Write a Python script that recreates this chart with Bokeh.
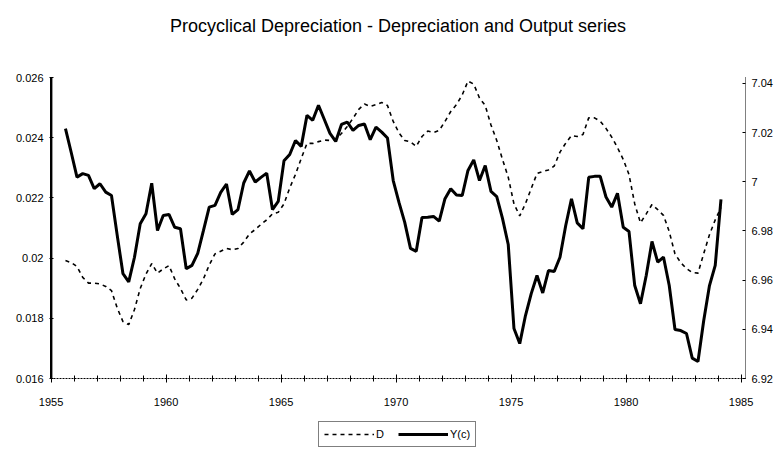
from bokeh.plotting import figure
from bokeh.layouts import column
from bokeh.models import (Range1d, LinearAxis, FixedTicker, CustomJSTickFormatter,
                          Legend, LegendItem, Label, Span)
from bokeh.embed import file_html
from bokeh.resources import INLINE

# Quarterly series, 1955Q3 .. 1984Q1
D = [0.01992, 0.01985, 0.01972, 0.01936, 0.01917, 0.01917, 0.01914, 0.01906, 0.01892, 0.01834,
     0.01789, 0.01779, 0.01829, 0.01899, 0.01947, 0.01982, 0.01950, 0.01964, 0.01975, 0.01931,
     0.01899, 0.01861, 0.01867, 0.01896, 0.01931, 0.01977, 0.02014, 0.02023, 0.02032, 0.02028,
     0.02032, 0.02053, 0.02080, 0.02095, 0.02112, 0.02127, 0.02147, 0.02152, 0.02180, 0.02233,
     0.02278, 0.02331, 0.02381, 0.02381, 0.02387, 0.02392, 0.02391, 0.02396, 0.02414, 0.02437,
     0.02464, 0.02494, 0.02512, 0.02504, 0.02510, 0.02517, 0.02507, 0.02454, 0.02416, 0.02391,
     0.02386, 0.02371, 0.02404, 0.02422, 0.02417, 0.02424, 0.02454, 0.02487, 0.02510, 0.02542,
     0.02588, 0.02578, 0.02532, 0.02507, 0.02442, 0.02391, 0.02328, 0.02269, 0.02180, 0.02140,
     0.02181, 0.02231, 0.02281, 0.02288, 0.02293, 0.02306, 0.02352, 0.02382, 0.02407, 0.02404,
     0.02411, 0.02466, 0.02466, 0.02455, 0.02431, 0.02402, 0.02367, 0.02328, 0.02278, 0.02180,
     0.02117, 0.02147, 0.02178, 0.02161, 0.02142, 0.02088, 0.02014, 0.01985, 0.01965, 0.01952,
     0.01950, 0.02015, 0.02078, 0.02127, 0.02168]

Yc = [7.0216, 7.0119, 7.0019, 7.0033, 7.0026, 6.9972, 6.9992, 6.9958, 6.9944, 6.9782,
      6.9626, 6.9593, 6.9693, 6.9829, 6.9870, 6.9994, 6.9802, 6.9863, 6.9867, 6.9815,
      6.9809, 6.9646, 6.9660, 6.9709, 6.9802, 6.9897, 6.9904, 6.9957, 6.9991, 6.9867,
      6.9887, 6.9995, 7.0044, 6.9999, 7.0018, 7.0035, 6.9887, 6.9920, 7.0085, 7.0111,
      7.0168, 7.0144, 7.0270, 7.0250, 7.0311, 7.0254, 7.0197, 7.0164, 7.0233, 7.0243,
      7.0209, 7.0229, 7.0235, 7.0171, 7.0222, 7.0202, 7.0178, 7.0005, 6.9916, 6.9835,
      6.9729, 6.9717, 6.9855, 6.9856, 6.9859, 6.9840, 6.9931, 6.9972, 6.9946, 6.9944,
      7.0046, 7.0089, 7.0005, 7.0066, 6.9961, 6.9940, 6.9851, 6.9745, 6.9403, 6.9342,
      6.9456, 6.9545, 6.9619, 6.9548, 6.9639, 6.9635, 6.9693, 6.9822, 6.9931, 6.9833,
      6.9809, 7.0018, 7.0022, 7.0022, 6.9938, 6.9897, 6.9953, 6.9815, 6.9798, 6.9578,
      6.9504, 6.9619, 6.9757, 6.9673, 6.9694, 6.9578, 6.9399, 6.9395, 6.9383, 6.9283,
      6.9269, 6.9436, 6.9578, 6.9660, 6.9928]

FIRST_QUARTER = 1955.625
years = [FIRST_QUARTER + 0.25 * i for i in range(len(D))]

x_ticks = [1955, 1960, 1965, 1970, 1975, 1980, 1985]
x_minor = list(range(1955, 1986))
left_ticks = [0.016, 0.018, 0.020, 0.022, 0.024, 0.026]
right_ticks = [6.92, 6.94, 6.96, 6.98, 7.00, 7.02, 7.04]

TITLE = "Procyclical Depreciation - Depreciation and Output series"
FONT = "Liberation Sans"
W = 780


def strip(height):
    f = figure(width=W, height=height, output_backend="svg", toolbar_location=None,
               x_axis_type=None, y_axis_type=None, min_border=0,
               x_range=Range1d(0, 1), y_range=Range1d(0, 1))
    f.outline_line_color = None
    f.background_fill_color = None
    f.border_fill_color = "white"
    return f


# title strip
top = strip(50)
top.add_layout(Label(x=0.5, y=0.5, text=TITLE, text_align="center",
                     text_baseline="middle", text_font=FONT, text_font_size="18px",
                     text_color="black"))

# main chart
x_range = Range1d(1954.974, 1985.191)
p = figure(width=W, height=364, output_backend="svg", toolbar_location=None,
           x_range=x_range, y_range=Range1d(0.016, 0.026),
           x_axis_type=None, y_axis_type=None,
           min_border_left=50, min_border_right=W - 745, min_border_top=27,
           min_border_bottom=36)
p.outline_line_color = None
p.background_fill_color = None
p.border_fill_color = "white"
p.extra_y_ranges = {"y": Range1d(6.92, 7.0424)}

fmt = CustomJSTickFormatter(code="return String(parseFloat(tick.toFixed(3)));")

xaxis = LinearAxis(ticker=FixedTicker(ticks=x_ticks, minor_ticks=x_minor))
xaxis.major_tick_in = 4
xaxis.major_tick_out = 4
xaxis.minor_tick_in = 3
xaxis.minor_tick_out = 3
xaxis.major_label_standoff = 15
xaxis.axis_line_dash = "2 1"
xaxis.minor_tick_line_color = "black"
p.add_layout(xaxis, "below")

laxis = LinearAxis(ticker=FixedTicker(ticks=left_ticks, minor_ticks=[]), formatter=fmt)
laxis.major_tick_in = 3
laxis.major_tick_out = 1
laxis.major_label_standoff = 6
laxis.axis_line_width = 1
p.add_layout(laxis, "left")

raxis = LinearAxis(y_range_name="y", ticker=FixedTicker(ticks=right_ticks, minor_ticks=[]),
                   formatter=fmt)
raxis.major_tick_in = 3
raxis.major_tick_out = 0
raxis.major_label_standoff = 6
raxis.axis_line_dash = "1 1"
p.add_layout(raxis, "right")

for ax in (xaxis, laxis, raxis):
    ax.major_label_text_font = FONT
    ax.major_label_text_font_size = "11px"
    ax.major_label_text_color = "black"
    ax.axis_line_color = "black"
    ax.major_tick_line_color = "black"

# solid rule along the left (D) axis, just inside the plotting area
p.add_layout(Span(location=x_range.start + 0.05, dimension="height",
                  line_color="black", line_width=1.5))

D_STYLE = dict(line_color="black", line_width=1.6, line_dash="4 4")
Y_STYLE = dict(line_color="black", line_width=3)

p.line(years, D, **D_STYLE)
p.line(years, Yc, y_range_name="y", **Y_STYLE)

# legend strip below the chart (its key lines sit outside the visible range)
lg = strip(46)
kD = lg.line([-2, -1], [-2, -2], **D_STYLE)
kY = lg.line([-2, -1], [-2, -2], **Y_STYLE)

legend = Legend(items=[LegendItem(label="D", renderers=[kD]),
                       LegendItem(label="Y(c)", renderers=[kY])],
                orientation="horizontal", location=(268, 13))
legend.border_line_color = "black"
legend.border_line_width = 1
legend.glyph_width = 50
legend.glyph_height = 14
legend.label_standoff = 2
legend.spacing = 2
legend.padding = 5
legend.margin = 0
legend.label_text_font = FONT
legend.label_text_font_size = "11px"
legend.label_text_color = "black"
legend.label_height = 14
lg.add_layout(legend, "center")

open("out.html", "w").write(file_html(column(top, p, lg), INLINE))
